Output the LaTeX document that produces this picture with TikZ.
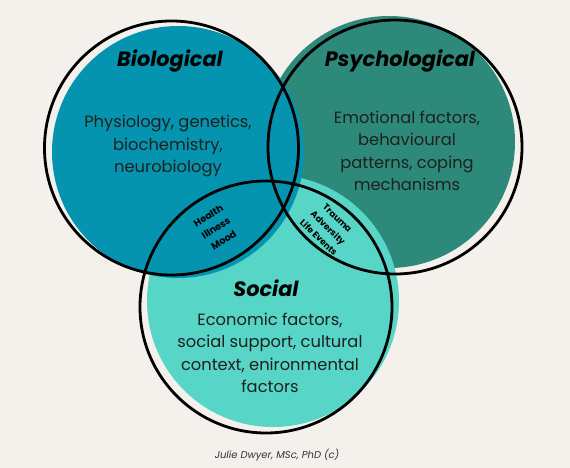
\documentclass[tikz,border=0pt]{standalone}
\usepackage{fontspec}
\setmainfont{Poppins}
\definecolor{bgc}{HTML}{F4F0EC}
\definecolor{bioc}{HTML}{0494B0}
\definecolor{psyc}{HTML}{2D8A7B}
\definecolor{socc}{HTML}{57D5C6}
\tikzset{
  ring/.style={draw=black, line width=2.8pt},
  title/.style={font=\fontsize{20.8}{24}\selectfont\bfseries\itshape, text=black},
  body/.style={font=\fontsize{16.3}{22.5}\selectfont, align=center, text=black!88},
  lens/.style={font=\fontsize{9.6}{14.5}\selectfont\bfseries, align=center, text=black, inner sep=0pt},
}
\begin{document}
\begin{tikzpicture}[x=1pt,y=-1pt]
\fill[bgc] (0,0) rectangle (570,468);
\useasboundingbox (0,0) rectangle (570,468);
% fills
\fill[psyc] (389,142) circle[radius=126pt];
\fill[socc] (273,301) circle[radius=126pt];
\fill[bioc] (178,152) circle[radius=126pt];
% outlines
\draw[ring] (171.5,148) circle[radius=127pt];
\draw[ring] (395,147) circle[radius=127pt];
\draw[ring] (266,307) circle[radius=126pt];
% titles
\node[title] (bio) at (170,61) {Biological};
\node[title] (psy) at (400,61) {Psychological};
\node[title] (soc) at (266,288) {Social};
% bodies
\node[body] (biot) at (168,146) {Physiology, genetics,\\biochemistry,\\neurobiology};
\node[body] (psyt) at (407,151) {Emotional factors,\\behavioural\\patterns, coping\\mechanisms};
\node[body] (soct) at (270,353) {Economic factors,\\social support, cultural\\context, enironmental\\factors};
% lenses
\node[lens, rotate=32] (hlth) at (216,228) {Health\\Illness\\Mood};
\node[lens, font=\fontsize{8.8}{13.5}\selectfont\bfseries, rotate=-44] (trma) at (328,228) {Trauma\\Adversity\\Life Events};
% credit
\node[font=\fontsize{10}{12}\selectfont\itshape, text=black!80] (cred) at (277,455) {Julie Dwyer, MSc, PhD (c)};
\end{tikzpicture}
\end{document}
